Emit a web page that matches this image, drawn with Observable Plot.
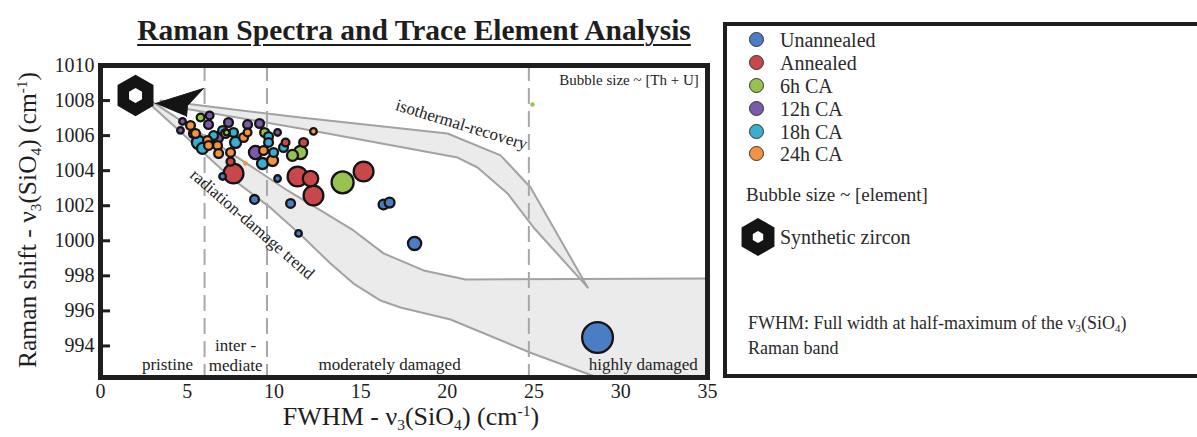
<!DOCTYPE html>
<html><head><meta charset="utf-8">
<script src="https://cdn.jsdelivr.net/npm/d3@7"></script>
<script src="https://cdn.jsdelivr.net/npm/@observablehq/plot@0.6"></script>
<style>
html,body{margin:0;padding:0;background:#fff;overflow:hidden;}
#wrap{position:relative;width:1197px;height:437px;overflow:hidden;font-family:"Liberation Serif","Times New Roman",serif;color:#1e1e1e;}
#chart{position:absolute;left:0;top:0;}
.abs{position:absolute;white-space:nowrap;}
sub{font-size:60%;vertical-align:-0.3em;line-height:0;}
sup{font-size:60%;vertical-align:0.6em;line-height:0;}
#title{left:0;width:828px;top:14px;line-height:32px;text-align:center;font-weight:bold;font-size:29.5px;text-decoration:underline;text-decoration-thickness:2px;text-underline-offset:4px;}
#xlabel{left:411px;top:417px;font-size:26px;line-height:24px;transform:translate(-50%,-50%);}
#ylabel{left:28px;top:220px;font-size:25.5px;line-height:28px;transform:translate(-50%,-50%) rotate(-90deg);}
#legend{left:723px;top:22px;width:500px;height:348px;border:4px solid #1e1e1e;}
.lg{font-size:20px;line-height:24px;color:#2a2a2a;}
.sw{position:absolute;width:13px;height:13px;border-radius:50%;border:1.3px solid #333;}
</style></head>
<body><div id="wrap"><div id="chart"></div>
<div id="title" class="abs">Raman Spectra and Trace Element Analysis</div>
<div id="xlabel" class="abs">FWHM - ν<sub>3</sub>(SiO<sub>4</sub>) (cm<sup>-1</sup>)</div>
<div id="ylabel" class="abs">Raman shift - ν<sub>3</sub>(SiO<sub>4</sub>) (cm<sup>-1</sup>)</div>
<div id="legend" class="abs"></div>
</div>
<script>
// ---- data ----
const categories = ["Unannealed", "Annealed", "6h CA", "12h CA", "18h CA", "24h CA"];
const colors = ["#4a7dc3", "#c8474b", "#98c150", "#7b5aa6", "#3badcf", "#f39240"];
const fwhmTicks = [0, 5, 10, 15, 20, 25, 30, 35];
const shiftTicks = [994, 996, 998, 1000, 1002, 1004, 1006, 1008, 1010];
const regimeBounds = [6.0, 9.6, 24.7];
const regimeNames = ["pristine", "inter -", "mediate", "moderately damaged", "highly damaged"];

// [FWHM, Raman shift, Th+U]
const unannealed = [[28.66,994.48,870],[18.11,999.85,160],[16.32,1002.07,90],[16.67,1002.18,90],[11.42,1000.42,40],[10.96,1002.13,71],[8.88,1002.36,71],[10.21,1003.55,40],[7.04,1003.67,40]];
const annealed = [[7.67,1003.84,360],[11.36,1003.67,360],[12.11,1003.55,220],[12.28,1002.58,360],[15.17,1003.95,360],[11.71,1005.61,71],[10.67,1005.61,55],[7.50,1004.52,60]];
const ca6h = [[13.96,1003.33,444],[11.53,1005.04,160],[11.07,1004.87,111],[9.46,1006.18,71],[4.73,1007.55,18],[24.91,1007.78,18],[7.27,1006.18,30],[5.77,1007.03,55]];
const ca12h = [[8.94,1005.04,160],[8.48,1006.63,71],[9.17,1006.69,71],[4.73,1006.81,40],[6.29,1007.15,55],[6.23,1006.63,71],[6.75,1005.89,111],[7.38,1006.75,71],[10.21,1006.18,40],[4.61,1006.30,40]];
const ca18h = [[5.65,1005.61,160],[5.88,1005.27,111],[6.52,1006.00,71],[7.04,1006.29,71],[7.67,1006.18,71],[7.79,1005.61,111],[9.69,1005.95,71],[9.69,1005.61,71],[9.34,1004.41,111],[9.98,1005.04,71],[10.55,1005.32,71],[5.36,1006.12,71]];
const ca24h = [[5.19,1006.58,71],[5.48,1006.12,71],[6.17,1005.72,71],[6.23,1005.44,71],[6.75,1005.44,71],[7.21,1006.12,71],[7.50,1005.04,71],[6.81,1004.98,71],[8.25,1005.89,71],[8.48,1006.18,55],[9.40,1005.15,71],[9.92,1004.58,111],[12.28,1006.24,40],[8.36,1004.41,18]];

const synthetic = [[2.02, 1008.29]];
const arrowHead = [[3.17,1007.83],[5.94,1008.69],[5.02,1007.72],[4.96,1007.09]];

const radUpper = [[2.88,1008.00],[9.05,1004.01],[10.78,1002.87],[12.69,1001.73],[14.59,1000.59],[16.32,999.28],[18.63,998.31],[21.05,997.79],[35,997.85]];
const radLower = [[2.88,1007.78],[7.50,1003.61],[9.80,1001.89],[11.71,1000.19],[13.26,998.70],[14.59,997.56],[16.15,996.59],[17.30,996.19],[20.18,995.51],[24.91,993.57],[28.66,992.2]];
const isoUpper = [[3.46,1008.00],[11.53,1007.03],[20.01,1006.12],[23.07,1004.87],[24.80,1003.04],[28.09,997.34]];
const isoLower = [[3.46,1007.78],[11.53,1006.41],[20.59,1004.75],[21.74,1004.18],[23.47,1002.70],[24.97,1000.76],[28.09,997.34]];

// ---- build ----
const groups = [unannealed, annealed, ca6h, ca12h, ca18h, ca24h];
const points = groups.flatMap((g, i) => g.map(([x, y, c]) => ({x, y, c, cat: categories[i]})));
const yMin = 992.2;
const radPoly = radUpper.concat([[35, yMin]], radLower.slice().reverse());
const isoPoly = isoUpper.concat(isoLower.slice().reverse());

const regimeLabels = [
  {t: regimeNames[0], x: 3.86, y: 992.94},
  {t: regimeNames[1], x: 7.79, y: 994.05},
  {t: regimeNames[2], x: 7.79, y: 992.9},
  {t: regimeNames[3], x: 16.67, y: 992.94},
  {t: regimeNames[4], x: 31.3, y: 992.94}
];

const bandFill = "#ebebeb", bandStroke = "#a2a2a2";
const chart = Plot.plot({
  width: 1197, height: 437,
  marginLeft: 100, marginRight: 490, marginTop: 65, marginBottom: 60,
  style: {fontFamily: '"Liberation Serif", "Times New Roman", serif', fontSize: "20px", color: "#1e1e1e", background: "transparent"},
  x: {domain: [0, 35], ticks: fwhmTicks, tickFormat: "d", tickSize: 0, tickPadding: 6, label: null},
  y: {domain: [yMin, 1010], ticks: shiftTicks, tickFormat: "d", tickSize: 0, tickPadding: 6, label: null},
  r: {type: "sqrt", domain: [0, 1000], range: [0, 16.5]},
  color: {domain: categories, range: colors},
  marks: [
    Plot.line(radPoly, {fill: bandFill, stroke: "none"}),
    Plot.line(isoPoly, {fill: bandFill, stroke: "none"}),
    Plot.line(radUpper, {stroke: bandStroke, strokeWidth: 2}),
    Plot.line(radLower, {stroke: bandStroke, strokeWidth: 2}),
    Plot.line(isoUpper, {stroke: bandStroke, strokeWidth: 2}),
    Plot.line(isoLower, {stroke: bandStroke, strokeWidth: 2}),
    Plot.ruleX(regimeBounds, {stroke: "#a8a8a8", strokeWidth: 2, strokeDasharray: "16,7"}),
    Plot.tickY(shiftTicks, {stroke: "#1e1e1e", strokeWidth: 3, insetRight: 597}),
    Plot.text(regimeLabels, {x: "x", y: "y", text: "t", fontSize: 17, fill: "#222"}),
    Plot.text(["isothermal-recovery"], {x: 20.82, y: 1006.63, text: d => d, rotate: 17, fontSize: 17, fill: "#222"}),
    Plot.text(["radiation-damage trend"], {x: 8.75, y: 1000.95, text: d => d, rotate: 41, fontSize: 17, fill: "#222"}),
    Plot.text(["Bubble size ~ [Th + U]"], {x: 34.5, y: 1009.14, text: d => d, textAnchor: "end", fontSize: 15, fill: "#222"}),
    Plot.dot(points, {filter: d => d.c >= 20, x: "x", y: "y", r: "c", fill: "cat", stroke: "#141414", strokeWidth: 2.3}),
    Plot.dot(points, {filter: d => d.c < 20, x: "x", y: "y", r: "c", fill: "cat", stroke: "none"}),
    Plot.line(arrowHead, {fill: "#141414", stroke: "#141414", strokeWidth: 1}),
    Plot.dot(synthetic, {symbol: "hexagon", r: 18, fill: "#141414"}),
    Plot.dot(synthetic, {symbol: "hexagon", r: 6.5, fill: "#fff"}),
    Plot.frame({stroke: "#1e1e1e", strokeWidth: 5})
  ]
});
document.getElementById("chart").appendChild(chart);

// ---- legend (HTML) ----
const wrap = document.getElementById("wrap");
const itemY = [40, 63, 86, 109, 132, 154];
categories.forEach((c, i) => {
  const sw = document.createElement("div");
  sw.className = "sw";
  sw.style.left = (757 - 7.8) + "px";
  sw.style.top = (itemY[i] - 7.8) + "px";
  sw.style.background = colors[i];
  wrap.appendChild(sw);
  const t = document.createElement("div");
  t.className = "abs lg";
  t.style.left = "780px";
  t.style.top = (itemY[i] - 12) + "px";
  t.textContent = c;
  wrap.appendChild(t);
});
function addText(html, left, cy, size) {
  const t = document.createElement("div");
  t.className = "abs lg";
  t.style.left = left + "px";
  t.style.top = (cy - 12) + "px";
  t.style.fontSize = size + "px";
  t.innerHTML = html;
  wrap.appendChild(t);
}
addText("Bubble size ~ [element]", 746, 195, 19);
addText("Synthetic zircon", 780, 237, 20);
addText("FWHM: Full width at half-maximum of the ν<sub>3</sub>(SiO<sub>4</sub>)", 748, 323, 18);
addText("Raman band", 748, 348, 18);
// legend hexagon
const ns = "http://www.w3.org/2000/svg";
const hs = document.createElementNS(ns, "svg");
hs.setAttribute("width", 44); hs.setAttribute("height", 44);
hs.style.position = "absolute"; hs.style.left = (758 - 22) + "px"; hs.style.top = (237 - 22) + "px";
const hex = (r) => d3.range(6).map(k => { const a = Math.PI / 3 * k + Math.PI / 2; return [22 + r * Math.cos(a), 22 + r * Math.sin(a)]; }).join(" ");
const p1 = document.createElementNS(ns, "polygon"); p1.setAttribute("points", hex(19)); p1.setAttribute("fill", "#141414");
const p2 = document.createElementNS(ns, "polygon"); p2.setAttribute("points", hex(6)); p2.setAttribute("fill", "#fff");
hs.appendChild(p1); hs.appendChild(p2); wrap.appendChild(hs);
</script>
</body></html>
